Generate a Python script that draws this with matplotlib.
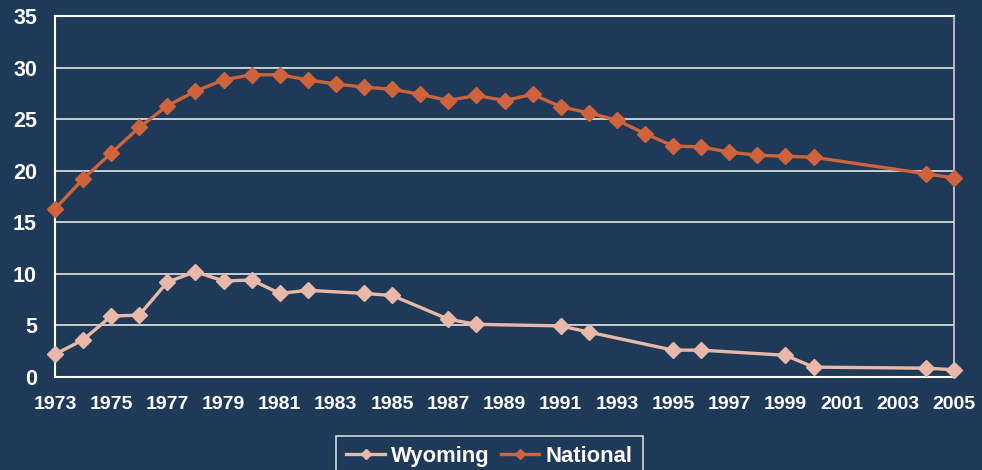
import numpy as np
import matplotlib.pyplot as plt

# Rates by year, Wyoming vs national
nat_years = [1973, 1974, 1975, 1976, 1977, 1978, 1979, 1980, 1981, 1982,
             1983, 1984, 1985, 1986, 1987, 1988, 1989, 1990, 1991, 1992,
             1993, 1994, 1995, 1996, 1997, 1998, 1999, 2000, 2004, 2005]
national = [16.3, 19.2, 21.7, 24.2, 26.3, 27.7, 28.8, 29.3, 29.3, 28.8,
            28.4, 28.1, 27.9, 27.4, 26.8, 27.3, 26.8, 27.4, 26.2, 25.6,
            24.9, 23.6, 22.4, 22.3, 21.8, 21.5, 21.4, 21.3, 19.7, 19.3]

wy_years = [1973, 1974, 1975, 1976, 1977, 1978, 1979, 1980, 1981, 1982,
            1984, 1985, 1987, 1988, 1991, 1992, 1995, 1996, 1999, 2000,
            2004, 2005]
wyoming = [2.2, 3.6, 5.9, 6.0, 9.2, 10.2, 9.3, 9.4, 8.1, 8.4,
           8.1, 7.9, 5.6, 5.1, 4.95, 4.35, 2.6, 2.6, 2.1, 0.95,
           0.85, 0.7]

bg = '#1f3958'
c_wy = '#e8b9a8'
c_nat = '#cf633b'

plt.rcParams['font.family'] = 'Liberation Sans'
plt.rcParams['font.weight'] = 'bold'

fig = plt.figure(figsize=(9.82, 4.70), dpi=100, facecolor=bg)
ax = fig.add_axes([0.056, 0.198, 0.9155, 0.768])
ax.set_facecolor(bg)

ax.plot(wy_years, wyoming, color=c_wy, lw=2.4, marker='D', ms=8.5,
        label='Wyoming', zorder=3, clip_on=False)
ax.plot(nat_years, national, color=c_nat, lw=2.4, marker='D', ms=8.5,
        label='National', zorder=3, clip_on=False)

ax.set_xlim(1973, 2005)
ax.set_ylim(0, 35)
ax.set_xticks(np.arange(1973, 2006, 2))
ax.set_yticks(np.arange(0, 36, 5))
ax.yaxis.grid(True, color='#e6e6e6', lw=1.2)
ax.set_axisbelow(True)
ax.tick_params(axis='both', length=0, colors='white')
ax.tick_params(axis='y', labelsize=15.5, pad=13)
ax.tick_params(axis='x', labelsize=14, pad=14)
for lab in ax.get_xticklabels() + ax.get_yticklabels():
    lab.set_fontweight('bold')

for side in ['left', 'bottom', 'top']:
    ax.spines[side].set_color('white')
    ax.spines[side].set_linewidth(1.5)
ax.spines['right'].set_color('#cfcfcf')
ax.spines['right'].set_linewidth(1.2)

leg = fig.legend(loc='upper center', bbox_to_anchor=(0.4985, 0.0725), ncol=2,
                 frameon=True, fancybox=False, fontsize=15.8,
                 handlelength=1.75, columnspacing=0.5, handletextpad=0.3,
                 borderpad=0.45, borderaxespad=0, markerscale=0.55)
leg.get_frame().set_facecolor(bg)
leg.get_frame().set_edgecolor('white')
leg.get_frame().set_linewidth(1.2)
for t in leg.get_texts():
    t.set_color('white')
    t.set_fontweight('bold')

fig.savefig('out.png', dpi=100, facecolor=bg)
